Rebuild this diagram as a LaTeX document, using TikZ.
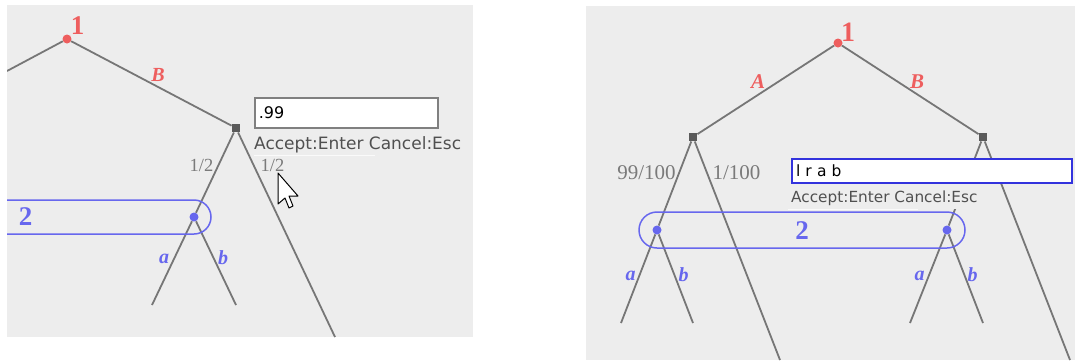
\documentclass[tikz,border=0pt]{standalone}
\usepackage{fontspec}
\setmainfont{Liberation Serif}
\newfontfamily\uifont{DejaVu Sans}
\definecolor{bg}{HTML}{EDEDED}
\definecolor{edgecol}{HTML}{767676}
\definecolor{pone}{HTML}{EE5E5E}
\definecolor{ptwo}{HTML}{6767EE}
\definecolor{chancecol}{HTML}{5A5A5A}
\definecolor{probcol}{HTML}{7A7A7A}
\definecolor{uitext}{HTML}{505050}
\definecolor{boxblue}{HTML}{3333DD}
\begin{document}
\begin{tikzpicture}[x=1pt,y=-1pt,
  treeedge/.style={draw=edgecol,line width=1.8pt},
  rootdot/.style={circle,fill=pone,inner sep=0pt,minimum size=9pt},
  infodot/.style={circle,fill=ptwo,inner sep=0pt,minimum size=9pt},
  chancebox/.style={rectangle,fill=chancecol,inner sep=0pt,minimum size=8.5pt},
  plabel/.style={text=pone,inner sep=0pt,font=\bfseries\itshape\fontsize{20}{20}\selectfont},
  qlabel/.style={text=ptwo,inner sep=0pt,font=\bfseries\itshape\fontsize{20}{20}\selectfont},
  playernum/.style={inner sep=0pt,font=\bfseries\fontsize{27}{27}\selectfont},
  problabel/.style={text=probcol,inner sep=0pt},
  infoset/.style={draw=ptwo,line width=1.5pt},
  acceptlbl/.style={anchor=base west,text=uitext,inner sep=0pt},
  faintline/.style={draw=white!70!bg,line width=1pt}
]
\useasboundingbox (0,0) rectangle (1075,360);
\fill[white] (0,0) rectangle (1075,360);

% ================= LEFT PANEL =================
\fill[bg] (7,5) rectangle (473,337);
\begin{scope}
\clip (7,5) rectangle (473,337);
\node[rootdot] (Lroot) at (67,39) {};
\coordinate (Lrootleft) at (7,71);
\node[chancebox] (Lchance) at (236,128) {};
\node[infodot] (Linfo) at (194,217) {};
\coordinate (Lfar) at (335,337);
\coordinate (Laend) at (152,305);
\coordinate (Lbend) at (236,305);

\draw[treeedge] (Lroot) -- (Lrootleft);
\draw[treeedge] (Lroot) -- (Lchance);
\draw[treeedge] (Lchance) -- (Linfo);
\draw[treeedge] (Lchance) -- (Lfar);
\draw[treeedge] (Linfo) -- (Laend);
\draw[treeedge] (Linfo) -- (Lbend);

\draw[infoset,rounded corners=17pt] (-40,200) rectangle (211,234);

\node[playernum,text=pone] (Lone) at (77.5,26) {1};
\node[plabel] (LB) at (158,74.5) {B};
\node[problabel,font=\fontsize{18.5}{18.5}\selectfont] (Lhalf1) at (201.5,165.5) {1/2};
\node[problabel,font=\fontsize{18.5}{18.5}\selectfont] (Lhalf2) at (272.5,165.5) {1/2};
\node[playernum,text=ptwo] (Ltwo) at (25.5,217) {2};
\node[qlabel] (La) at (164,258.5) {a};
\node[qlabel] (Lb) at (223,257.5) {b};

\node[draw=gray,line width=1.5pt,fill=white,anchor=north west,
      minimum height=30pt,text width=175pt,inner xsep=4pt,align=left,
      font=\uifont\fontsize{16}{16}\selectfont] (Lbox) at (254,97) {.99};
\node[acceptlbl,font=\uifont\fontsize{17}{17}\selectfont] (Laccept) at (254,149.5) {Accept:Enter Cancel:Esc};
\draw[faintline] (254,155) -- (375,155);

% cursor
\draw[black,fill=white,line width=1pt,line join=round]
  (278,173) -- ++(0,31) -- ++(7,-6) -- ++(4,10) -- ++(4,-2) -- ++(-4,-10) -- ++(9,0) -- cycle;
\end{scope}

% ================= RIGHT PANEL =================
\fill[bg] (586,6) rectangle (1075,360);
\begin{scope}
\clip (586,6) rectangle (1075,360);
\node[rootdot] (Rroot) at (838,43) {};
\node[chancebox] (Rcl) at (693,137) {};
\node[chancebox] (Rcr) at (983,137) {};
\node[infodot] (Ril) at (657,230) {};
\node[infodot] (Rir) at (947,230) {};
\coordinate (Rlfar) at (780,360);
\coordinate (Rrfar) at (1070,360);
\coordinate (Rla) at (621,323);
\coordinate (Rlb) at (693,323);
\coordinate (Rra) at (910,323);
\coordinate (Rrb) at (983,323);

\draw[treeedge] (Rroot) -- (Rcl);
\draw[treeedge] (Rroot) -- (Rcr);
\draw[treeedge] (Rcl) -- (Ril);
\draw[treeedge] (Rcl) -- (Rlfar);
\draw[treeedge] (Rcr) -- (Rir);
\draw[treeedge] (Rcr) -- (Rrfar);
\draw[treeedge] (Ril) -- (Rla);
\draw[treeedge] (Ril) -- (Rlb);
\draw[treeedge] (Rir) -- (Rra);
\draw[treeedge] (Rir) -- (Rrb);

\draw[infoset,rounded corners=18pt] (639,212) rectangle (965,248);

\node[playernum,text=pone,font=\bfseries\fontsize{28}{28}\selectfont] (Rone) at (848,32) {1};
\node[plabel,font=\bfseries\itshape\fontsize{21}{21}\selectfont] (RA) at (758,82) {A};
\node[plabel,font=\bfseries\itshape\fontsize{21}{21}\selectfont] (RB) at (917,82) {B};
\node[problabel,font=\fontsize{21}{21}\selectfont] (Rp1) at (646.5,172.5) {99/100};
\node[problabel,font=\fontsize{21}{21}\selectfont] (Rp2) at (736.5,172.5) {1/100};
\node[playernum,text=ptwo] (Rtwo) at (802,231) {2};
\node[qlabel] (Rla1) at (630.5,276) {a};
\node[qlabel] (Rlb1) at (683.5,275) {b};
\node[qlabel] (Rra1) at (919.5,276) {a};
\node[qlabel] (Rrb1) at (972.5,275) {b};

\fill[bg] (789,181) rectangle (978,209);
\node[acceptlbl,font=\uifont\fontsize{15.3}{15.3}\selectfont] (Raccept) at (791,202) {Accept:Enter Cancel:Esc};
\draw[faintline] (788,209) -- (918,209);
\node[draw=boxblue,line width=2pt,fill=white,anchor=north west,
      minimum height=24pt,text width=272pt,inner xsep=4pt,inner ysep=0pt,align=left,
      font=\uifont\fontsize{15.5}{15.5}\selectfont] (Rbox) at (791,158) {l r a b};
\end{scope}
\end{tikzpicture}
\end{document}
